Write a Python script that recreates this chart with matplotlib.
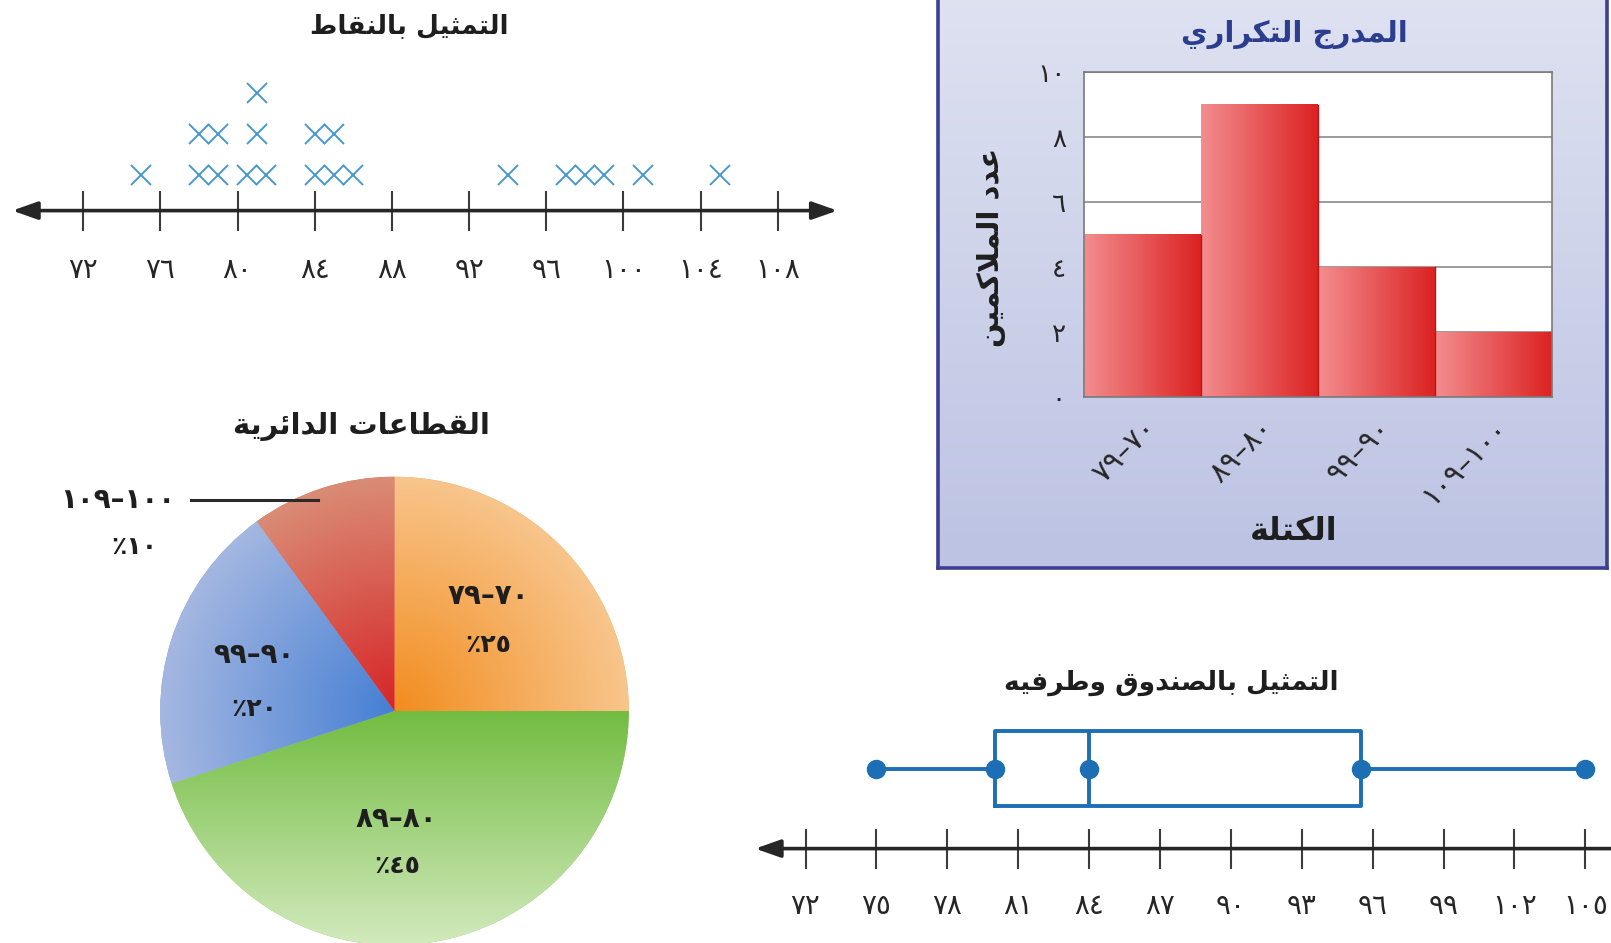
import numpy as np
import matplotlib
matplotlib.use("Agg")
import matplotlib.pyplot as plt
from matplotlib.colors import to_rgb

# ---------------- data ----------------
dot_title = "التمثيل بالنقاط"
dot_ticks = [72, 76, 80, 84, 88, 92, 96, 100, 104, 108]
dot_row1 = [75, 78, 79, 80.5, 81.5, 84, 85, 86, 94, 97, 98, 99, 101, 105]
dot_row2 = [78, 79, 81, 84, 85]
dot_row3 = [81]

hist_title = "المدرج التكراري"
hist_ylabel = "عدد الملاكمين"
hist_xlabel = "الكتلة"
class_low = [70, 80, 90, 100]
class_high = [79, 89, 99, 109]
class_counts = [5, 9, 4, 2]
hist_yticks = [0, 2, 4, 6, 8, 10]

pie_title = "القطاعات الدائرية"
pie_percent = [25, 45, 20, 10]

box_title = "التمثيل بالصندوق وطرفيه"
box_five = [75, 80, 84, 95.5, 105]   # min, Q1, median, Q3, max
box_ticks = [72, 75, 78, 81, 84, 87, 90, 93, 96, 99, 102, 105]

# ---------------- Arabic shaping (visual order, presentation forms) ----------------
_F = {
    'ا': ('\uFE8D', '\uFE8E', None, None),
    'ب': ('\uFE8F', '\uFE90', '\uFE91', '\uFE92'),
    'ة': ('\uFE93', '\uFE94', None, None),
    'ت': ('\uFE95', '\uFE96', '\uFE97', '\uFE98'),
    'ث': ('\uFE99', '\uFE9A', '\uFE9B', '\uFE9C'),
    'ج': ('\uFE9D', '\uFE9E', '\uFE9F', '\uFEA0'),
    'د': ('\uFEA9', '\uFEAA', None, None),
    'ر': ('\uFEAD', '\uFEAE', None, None),
    'ص': ('\uFEB9', '\uFEBA', '\uFEBB', '\uFEBC'),
    'ط': ('\uFEC1', '\uFEC2', '\uFEC3', '\uFEC4'),
    'ع': ('\uFEC9', '\uFECA', '\uFECB', '\uFECC'),
    'ف': ('\uFED1', '\uFED2', '\uFED3', '\uFED4'),
    'ق': ('\uFED5', '\uFED6', '\uFED7', '\uFED8'),
    'ك': ('\uFED9', '\uFEDA', '\uFEDB', '\uFEDC'),
    'ل': ('\uFEDD', '\uFEDE', '\uFEDF', '\uFEE0'),
    'م': ('\uFEE1', '\uFEE2', '\uFEE3', '\uFEE4'),
    'ن': ('\uFEE5', '\uFEE6', '\uFEE7', '\uFEE8'),
    'ه': ('\uFEE9', '\uFEEA', '\uFEEB', '\uFEEC'),
    'و': ('\uFEED', '\uFEEE', None, None),
    'ي': ('\uFEF1', '\uFEF2', '\uFEF3', '\uFEF4'),
    'ئ': ('\uFE89', '\uFE8A', '\uFE8B', '\uFE8C'),
}
_LA = {'ا': ('\uFEFB', '\uFEFC', None, None)}


def shape(text):
    items = []
    i = 0
    while i < len(text):
        c = text[i]
        if c == 'ل' and i + 1 < len(text) and text[i + 1] in _LA:
            items.append(_LA[text[i + 1]])
            i += 2
        else:
            items.append(_F.get(c, c))
            i += 1
    out = []
    for k, it in enumerate(items):
        if isinstance(it, str):
            out.append(it)
            continue
        prev = items[k - 1] if k > 0 else None
        nxt = items[k + 1] if k + 1 < len(items) else None
        jp = isinstance(prev, tuple) and prev[2] is not None
        jn = it[2] is not None and isinstance(nxt, tuple)
        if jp and jn:
            g = it[3]
        elif jp:
            g = it[1]
        elif jn:
            g = it[2]
        else:
            g = it[0]
        out.append(g)
    return ''.join(reversed(out))


_DIG = str.maketrans('0123456789', '٠١٢٣٤٥٦٧٨٩')


def ar_num(n):
    return str(n).translate(_DIG)


def ar_range(lo, hi):
    return ar_num(hi) + '–' + ar_num(lo)


# ---------------- figure ----------------
W, H = 1611, 943
fig = plt.figure(figsize=(W / 100, H / 100), dpi=100)
fig.patch.set_facecolor('white')
plt.rcParams['font.family'] = ['DejaVu Sans']


def px_axes(x0, y0, x1, y1, **kw):
    return fig.add_axes([x0 / W, 1 - y1 / H, (x1 - x0) / W, (y1 - y0) / H], **kw)


def ftext(x, y, s, **kw):
    return fig.text(x / W, 1 - y / H, s, ha='center', va='center', **kw)


AXIS_COL = '#262626'
TICK_COL = '#3c3c3c'
LAB_COL = '#262626'
X_BLUE = '#4898cf'
BOX_BLUE = '#1c6fb4'
TITLE_COL = '#1e1e1e'

# ======== dot plot ========
ax = px_axes(0, 0, 860, 300)
unit = (777.8 - 83.2) / 36.0
ax.set_xlim(72 - 83.2 / unit, 72 + (860 - 83.2) / unit)
ax.set_ylim(-(300 - 210.6), 210.6)
ax.set_facecolor('none')
for s in ['left', 'right', 'top']:
    ax.spines[s].set_visible(False)
ax.spines['bottom'].set_position(('data', 0))
ax.spines['bottom'].set_visible(False)
ax.set_yticks([])
ax.set_xticks(dot_ticks, [ar_num(t) for t in dot_ticks])
ax.tick_params(axis='x', direction='inout', length=29, width=1.5, color=TICK_COL,
               pad=18, labelsize=20, labelcolor=LAB_COL)
ROW0, ROWGAP = 35.9, 41.0
for k, row in enumerate([dot_row1, dot_row2, dot_row3]):
    ax.plot(row, [ROW0 + ROWGAP * k] * len(row), linestyle='none', marker='x',
            ms=15, mew=1.4, color=X_BLUE)
ax.annotate('', xy=(72 - (83.2 - 12.3) / unit, 0), xytext=(72 + (837.4 - 83.2) / unit, 0),
            arrowprops=dict(arrowstyle='<|-|>,head_length=0.85,head_width=0.3', lw=2.6,
                            color=AXIS_COL, shrinkA=0, shrinkB=0, mutation_scale=18))
ftext(409, 26, shape(dot_title), fontsize=19, fontweight='bold', color=TITLE_COL)

# ======== histogram panel ========
bg = px_axes(938, -10, 1607, 568)
grad = np.linspace(0, 1, 256)[:, None, None]
c_top, c_bot = np.array(to_rgb('#dfe2f1')), np.array(to_rgb('#bcc3e3'))
bg.imshow(c_top * (1 - grad) + c_bot * grad, extent=(0, 1, 0, 1), aspect='auto', origin='upper')
bg.set_xlim(0, 1)
bg.set_ylim(0, 1)
bg.set_xticks([])
bg.set_yticks([])
for s in bg.spines.values():
    s.set_color('#3d3f92')
    s.set_linewidth(2.6)

hx = px_axes(1084, 72, 1552, 397)
hx.set_facecolor('white')
xs = np.arange(len(class_counts))
bars = hx.bar(xs, class_counts, width=1.0, color='#e85858', linewidth=0, zorder=2)
c_l, c_r = np.array(to_rgb('#f38d8f')), np.array(to_rgb('#dc2222'))
hg = np.linspace(0, 1, 200)[None, :, None]
bar_img = c_l * (1 - hg) + c_r * hg
for b in bars:
    x0, w, h = b.get_x(), b.get_width(), b.get_height()
    hx.imshow(bar_img, extent=(x0, x0 + w, 0, h), aspect='auto', origin='lower', zorder=2.5,
              interpolation='bilinear')
    hx.plot([x0 + w, x0 + w], [0, h], color='#b51616', lw=1.0, zorder=2.6)
hx.set_xlim(-0.5, len(class_counts) - 0.5)
hx.set_ylim(0, 10)
hx.set_yticks(hist_yticks, [ar_num(t) for t in hist_yticks])
hx.set_xticks(xs, [ar_range(lo, hi) for lo, hi in zip(class_low, class_high)])
hx.yaxis.grid(True, color='#8a8a8a', lw=1.2, zorder=1)
hx.set_axisbelow(True)
hx.tick_params(axis='y', length=0, pad=13, labelsize=19, labelcolor=LAB_COL)
hx.tick_params(axis='x', length=0, pad=12, labelsize=21, labelcolor=LAB_COL)
for lab in hx.get_xticklabels():
    lab.set_rotation(45)
    lab.set_ha('right')
    lab.set_va('top')
    lab.set_rotation_mode('anchor')
for s in hx.spines.values():
    s.set_color('#7a7a7a')
    s.set_linewidth(1.2)
    s.set_zorder(3)
ftext(1294, 34, shape(hist_title), fontsize=21, fontweight='bold', color='#2b3d8e')
ftext(991, 247, shape(hist_ylabel), fontsize=21, fontweight='bold', color=TITLE_COL, rotation=90)
ftext(1294, 532, shape(hist_xlabel), fontsize=23, fontweight='bold', color=TITLE_COL)

# ======== pie chart ========
R_PX = 234.3
cx, cy = 394.5, 711.0
px = px_axes(cx - R_PX, cy - R_PX, cx + R_PX, cy + R_PX)
wedges, _ = px.pie(pie_percent, startangle=90, counterclock=False, radius=1,
                   colors=['#f5a650', '#92c96a', '#7f9fd9', '#d8604a'],
                   wedgeprops=dict(linewidth=0))
n = 400
gx = np.linspace(-1, 1, n)
GX, GY = np.meshgrid(gx, gx)
RR = np.clip(np.hypot(GX, GY), 0, 1)[..., None]
TY = np.clip(-GY, 0, 1)[..., None]
grad_specs = [
    ('#f28c1e', '#f8c58c', RR),
    ('#72bc41', '#d2eabd', TY),
    ('#467fd4', '#a4b7e1', RR),
    ('#d62426', '#da8c76', RR),
]
for wdg, (c0, c1, t) in zip(wedges, grad_specs):
    img = np.array(to_rgb(c0)) * (1 - t) + np.array(to_rgb(c1)) * t
    im = px.imshow(img, extent=(-1, 1, -1, 1), origin='lower', interpolation='bilinear', zorder=2)
    im.set_clip_path(wdg)
px.set_xlim(-1, 1)
px.set_ylim(-1, 1)
px.set_aspect('equal')
px.axis('off')
pie_label_pos = [(0.40, 0.49, 0.28), (0.01, -0.46, -0.66), (-0.60, 0.24, 0.01), (-1.18, 0.90, 0.70)]
pie_label_x2 = [0.40, 0.01, -0.60, -1.11]
for i, (lo, hi, p) in enumerate(zip(class_low, class_high, pie_percent)):
    x, y1, y2 = pie_label_pos[i]
    px.text(x, y1, ar_range(lo, hi), ha='center', va='center', fontsize=20,
            fontweight='bold', color='#1e1e1e', zorder=5)
    px.text(pie_label_x2[i], y2, '٪' + ar_num(p), ha='center', va='center', fontsize=18,
            fontweight='bold', color='#1e1e1e', zorder=5)
px.plot([-0.87, -0.325], [0.90, 0.90], color='#2a2a2a', lw=2.2, zorder=5, clip_on=False)
ftext(352 * 1611 / 1568, 415 * 1611 / 1568, shape(pie_title), fontsize=21, fontweight='bold',
      color=TITLE_COL)

# ======== box plot ========
bx = px_axes(740, 650, 1611, 943)
bunit = (1585.3 - 805.5) / 33.0
bx.set_xlim(72 - (805.5 - 740) / bunit, 72 + (1611 - 805.5) / bunit)
bx.set_ylim(-(943 - 848.6), 848.6 - 650)
bx.set_facecolor('none')
for s in ['left', 'right', 'top']:
    bx.spines[s].set_visible(False)
bx.spines['bottom'].set_position(('data', 0))
bx.spines['bottom'].set_visible(False)
bx.set_yticks([])
BOX_Y, BOX_H = 80.0, 75.0
stats = [dict(whislo=box_five[0], q1=box_five[1], med=box_five[2], q3=box_five[3],
              whishi=box_five[4], fliers=[])]
lp = dict(color=BOX_BLUE, linewidth=2.8)
bx.bxp(stats, positions=[BOX_Y], widths=BOX_H, orientation='horizontal', showcaps=False,
       showfliers=False, boxprops=lp, whiskerprops=lp, medianprops=lp, manage_ticks=False)
bx.plot(box_five, [BOX_Y] * len(box_five), linestyle='none', marker='o', ms=13,
        color=BOX_BLUE, zorder=5)
bx.set_xticks(box_ticks, [ar_num(t) for t in box_ticks])
bx.tick_params(axis='x', direction='inout', length=29, width=1.5, color=TICK_COL,
               pad=17, labelsize=20, labelcolor=LAB_COL)
bx.annotate('', xy=(72 - (805.5 - 755.2) / bunit, 0), xytext=(72 + (1611 - 805.5) / bunit, 0),
            arrowprops=dict(arrowstyle='-|>,head_length=0.85,head_width=0.3', lw=2.6,
                            color=AXIS_COL, shrinkA=0, shrinkB=0, mutation_scale=18))
ftext(1171, 683, shape(box_title), fontsize=19, fontweight='bold', color=TITLE_COL)

fig.savefig('out.png', dpi=100, facecolor='white')
